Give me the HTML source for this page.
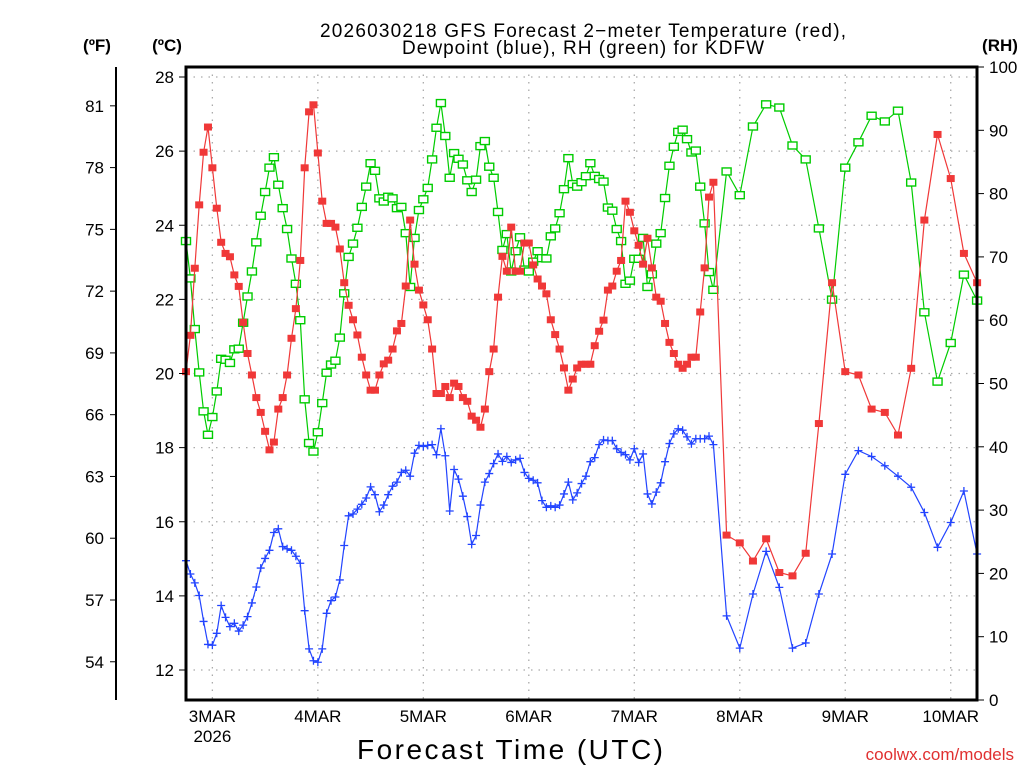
<!DOCTYPE html>
<html><head><meta charset="utf-8"><style>
html,body{margin:0;padding:0;background:#fff;}
svg{display:block;font-family:"Liberation Sans","DejaVu Sans",sans-serif;}
</style></head><body>
<svg id="chart" width="1024" height="768" viewBox="0 0 1024 768">
<rect x="0" y="0" width="1024" height="768" fill="#fff"/>
<g id="grid"></g>
<g id="series"></g>
<rect x="186" y="67" width="791" height="633" fill="none" stroke="#000" stroke-width="3"/>
<g id="axes"></g>
<text x="583" y="37" font-size="19" text-anchor="middle" textLength="526">2026030218 GFS Forecast 2−meter Temperature (red),</text>
<text x="583" y="54" font-size="19" text-anchor="middle" textLength="362">Dewpoint (blue), RH (green) for KDFW</text>
<text x="97" y="51" font-size="17" font-weight="bold" text-anchor="middle">(ºF)</text>
<text x="167" y="51" font-size="17" font-weight="bold" text-anchor="middle">(ºC)</text>
<text x="1000" y="51" font-size="17" font-weight="bold" text-anchor="middle">(RH)</text>
<text x="510" y="759" font-size="28" text-anchor="middle" textLength="306">Forecast Time (UTC)</text>
<text x="1014" y="760" font-size="17" fill="#e03030" text-anchor="end">coolwx.com/models</text>
</svg>
<script>
const tempHourly=[20.05,21.03,22.84,24.55,25.97,26.65,25.55,24.46,23.54,23.24,23.15,22.66,22.35,21.38,20.54,19.96,19.35,18.95,18.44,17.94,18.15,19.04,19.35,19.96,20.95,21.75,23.05,25.55,27.06,27.25,25.95,24.65,24.05,24.05,23.95,23.36,22.45,21.84,21.45,21.04,20.44,19.96,19.55,19.55,19.96,20.26,20.36,20.66,21.15,
21.35,22.36,24.14,22.95,22.25,21.85,21.45,20.66,19.46,19.46,19.65,19.35,19.74,19.65,19.35,19.25,18.85,18.74,18.55,19.04,20.05,20.66,22.06,23.16,22.76,23.95,22.76,22.76,23.52,23.52,
22.93,22.55,22.36,22.15,21.45,21.05,20.66,20.15,19.55,19.85,20.15,20.25,20.25,20.25,20.75,
21.14,21.44,22.25,22.36,22.76,23.05,24.65,24.35,23.85,23.46,22.95,23.65,22.85,22.06,21.95,21.35,20.84,20.54,20.25,20.14,20.25,20.44,20.44,21.66,22.85,24.76,25.16];
const temp3h=[15.64,15.43,14.94,15.54,14.63,14.54,15.15,18.65,22.45,20.05,19.96,19.04,18.95,18.34,20.14,24.14,26.45,25.26,23.24,22.45];
const dewHourly=[14.95,14.59,14.35,14.01,13.31,12.69,12.67,12.99,13.74,13.42,13.17,13.26,13.05,13.21,13.44,13.81,14.24,14.75,15.01,15.23,15.71,15.81,15.33,15.27,15.23,15.07,14.88,13.60,12.57,12.25,12.21,12.57,13.53,13.87,13.97,14.43,15.36,16.16,16.21,16.34,16.47,16.64,16.94,16.73,16.27,16.45,16.73,16.96,17.07,
17.33,17.39,17.23,17.85,18.06,18.03,18.06,18.08,17.81,18.51,17.78,16.29,17.41,17.15,16.69,16.14,15.39,15.63,16.45,17.07,17.30,17.57,17.83,17.63,17.76,17.60,17.67,17.71,17.33,17.17,17.12,17.05,16.57,16.39,16.43,16.39,16.45,16.75,17.07,16.59,16.78,17.03,17.23,17.62,17.73,
18.08,18.21,18.19,18.19,17.97,17.87,17.81,17.67,17.97,17.60,17.83,16.75,16.48,16.80,17.05,17.62,18.11,18.37,18.51,18.47,18.29,18.10,18.24,18.24,18.24,18.31,18.08];
const dew3h=[13.46,12.59,14.05,15.20,14.23,12.59,12.73,14.05,15.13,17.28,17.92,17.76,17.51,17.23,16.93,16.25,15.31,15.98,16.83,15.13];
const rhHourly=[72.5,66.6,58.6,51.75,45.6,41.9,44.7,48.75,53.9,53.75,53.25,55.4,55.5,59.6,63.75,67.7,72.3,76.5,80.25,84.1,85.75,81.4,77.7,74.4,69.75,65.75,60,47.5,40.6,39.25,42.3,46.9,51.7,53,53.6,57.25,64.25,70,72.1,74.6,77.9,81.1,84.8,83.6,79.25,78.75,79.5,79.25,77.7,
77.9,73.75,65.25,73,77.4,79.1,80.9,85.4,90.4,94.3,89.1,82.5,86.4,85.5,84.6,82.1,80.25,82.2,87.5,88.3,84.25,82.5,77.1,71.1,73.6,67.7,70.9,73.1,68,67.7,69.25,70.9,69.8,69.75,73.25,74.5,76.9,80.7,85.6,81.5,81.1,81.8,82.75,84.8,82.8,
82.3,81.9,77.8,77.3,74.4,72.5,65.75,66.25,69.7,69.7,73,65.25,67.25,72.1,73.75,79.3,84.4,87.4,89.75,90.1,88.6,86.5,86.8,81.1,75.3,67.6,64.8];
const rh3h=[83.5,79.75,90.6,94.1,93.6,87.6,85.4,74.5,63.25,84.1,88.1,92.3,91.4,93.1,81.75,61.25,50.3,56.4,67.2,63.1];
const dayLabels=["3MAR","4MAR","5MAR","6MAR","7MAR","8MAR","9MAR","10MAR"];
const celsiusTicks=[12,14,16,18,20,22,24,26,28];
const fahrenheitTicks=[54,57,60,63,66,69,72,75,78,81];
const rhTicks=[0,10,20,30,40,50,60,70,80,90,100];

const hours=[];
for(let h=0;h<=120;h++)hours.push(h);
const hours3=[];
for(let i=0;i<temp3h.length;i++)hours3.push(123+3*i);

const NS="http://www.w3.org/2000/svg";
const X0=186,PXH=4.395;
function xs(h){return X0+h*PXH;}
function yc(c){return 670-(c-12)*37.0625;}
function yf(f){return yc((f-32)/1.8);}
function yr(r){return 700-r*6.33;}
function mk(tag,attrs,parent){const e=document.createElementNS(NS,tag);for(const k in attrs)e.setAttribute(k,attrs[k]);parent.appendChild(e);return e;}

const grid=document.getElementById('grid'),axes=document.getElementById('axes'),series=document.getElementById('series');
celsiusTicks.forEach(c=>{
  const y=yc(c);
  const g=mk('line',{x1:186,x2:977,y1:y,y2:y,stroke:'#aaa','stroke-width':1.3,'stroke-dasharray':'1.5 6'},grid);
  
  
  const t=mk('line',{x1:179,x2:186,y1:y,y2:y,stroke:'#000','stroke-width':1},axes);
  
  
  const l=mk('text',{x:174,y:y+6,'font-size':17,'text-anchor':'end'},axes);
  l.textContent=c;
  
  
});
dayLabels.forEach((d,i)=>{
  const x=xs(6+24*i);
  const g=mk('line',{x1:x,x2:x,y1:67,y2:700,stroke:'#aaa','stroke-width':1.3,'stroke-dasharray':'1.5 6'},grid);
  
  
  const l=mk('text',{x:x,y:722,'font-size':17,'text-anchor':'middle'},axes);
  l.textContent=d;
  
  
});
const yl=mk('text',{x:xs(6),y:742,'font-size':17,'text-anchor':'middle'},axes);
yl.textContent='2026';


const fa=mk('line',{x1:116,x2:116,y1:67,y2:700,stroke:'#000','stroke-width':2},axes);


fahrenheitTicks.forEach(f=>{
  const y=yf(f);
  const t=mk('line',{x1:110,x2:116,y1:y,y2:y,stroke:'#000','stroke-width':1},axes);
  
  
  const l=mk('text',{x:104,y:y+6,'font-size':17,'text-anchor':'end'},axes);
  l.textContent=f;
  
  
});
rhTicks.forEach(r=>{
  const y=yr(r);
  const t=mk('line',{x1:977,x2:984,y1:y,y2:y,stroke:'#000','stroke-width':1},axes);
  
  
  const l=mk('text',{x:989,y:y+6,'font-size':17,'text-anchor':'start'},axes);
  l.textContent=r;
  
  
});

function drawSeries(vals,vals3,yfun,color,kind,name){
  const pts=[];
  hours.forEach((h,i)=>{if(vals[i]!==undefined)pts.push([xs(h),yfun(vals[i])]);});
  hours3.forEach((h,i)=>pts.push([xs(h),yfun(vals3[i])]));
  const g=mk('g',{},series);
  
  
  const pl=mk('polyline',{points:pts.map(p=>p[0].toFixed(1)+','+p[1].toFixed(1)).join(' '),fill:'none',stroke:color,'stroke-width':1.2},g);
  
  
  pts.forEach(p=>{
    let m;
    if(kind==='fill'){m=mk('rect',{x:p[0]-4,y:p[1]-3.5,width:8,height:7,fill:color},g);}
    else if(kind==='open'){m=mk('rect',{x:p[0]-4.5,y:p[1]-3.5,width:9,height:7,fill:'#fff',stroke:color,'stroke-width':1.4},g);}
    else {m=mk('path',{d:`M${p[0]-4},${p[1]}h8M${p[0]},${p[1]-4}v8`,stroke:color,'stroke-width':1.3,fill:'none'},g);}
    
    
  });
}
drawSeries(rhHourly,rh3h,yr,'#00cc00','open','rh-series');
drawSeries(dewHourly,dew3h,yc,'#2244ff','plus','dewpoint-series');
drawSeries(tempHourly,temp3h,yc,'#f03838','fill','temperature-series');
</script>
</body></html>
